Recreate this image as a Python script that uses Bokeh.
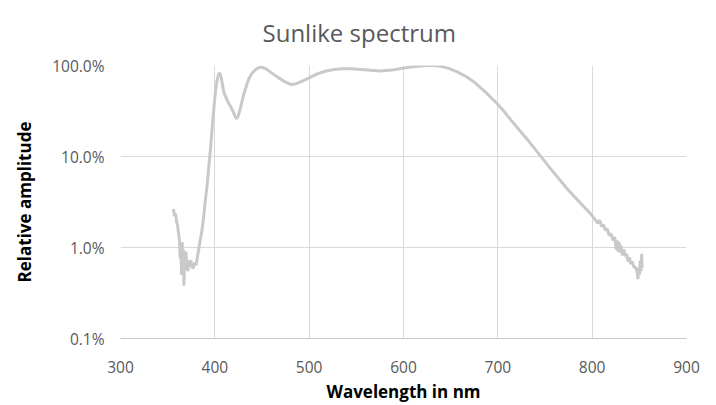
from bokeh.plotting import figure
from bokeh.models import Range1d, FixedTicker, CustomJSTickFormatter, Title
from bokeh.embed import file_html
from bokeh.resources import INLINE

wavelength_nm = [356, 357.5, 358.5, 359.5, 360.5, 361.5, 362.5, 363.3, 364, 364.7,
                 365.4, 366, 366.6, 367.2, 368, 369.3, 370.3, 371.4, 372.5, 373.5,
                 374.5, 375.5, 377, 378.5, 380.2, 381.5, 383, 384.8, 386.6, 388.4,
                 390.1, 392, 393.6, 395.5, 397.2, 399, 400.7, 402.5, 404.3, 405.5,
                 406.7, 408, 409.5, 412, 414.8, 417, 419.5, 421.5, 423, 424.5,
                 426.5, 428.5, 430.8, 433.5, 436.1, 439, 442.1, 445, 448.5, 452,
                 455.5, 460, 466.2, 473, 480.3, 485, 490.9, 500, 508.6, 517,
                 526.2, 535, 545, 555, 565, 575.7, 588, 600.4, 612, 625,
                 632, 639.3, 648, 657, 666, 674.7, 687, 699.4, 708, 717,
                 731, 745.4, 759, 773.7, 786, 798.4, 806, 808, 810, 812,
                 814, 816, 818, 820, 822, 824, 825.5, 826.5, 827.5, 828.5,
                 829.5, 830.5, 832, 833.7, 835, 836.5, 838, 839.5, 840.8, 842.5,
                 844, 846, 847.5, 848.5, 849.2, 850, 851, 851.8, 852.5, 853]
amplitude_pct = [2.65, 2.2, 2.35, 1.9, 1.75, 1.45, 1.2, 0.75, 1.05, 0.50,
                 1.15, 0.65, 0.95, 0.38, 0.8, 0.90, 0.62, 0.55, 0.72, 0.62,
                 0.73, 0.62, 0.59, 0.68, 0.64, 0.78, 0.97, 1.25, 1.61, 2.3,
                 3.4, 5.0, 7.8, 12.5, 21, 34, 53, 70, 82.5, 81,
                 74.6, 62, 51, 44, 38, 35, 31, 27.5, 26, 27.5,
                 32, 39, 49, 60, 71.6, 81, 88, 93, 96, 94,
                 90, 83, 75, 67.5, 62, 62.5, 66, 73, 81, 86.5,
                 90.5, 92, 92, 90.5, 88.5, 87, 89, 94, 97.5, 100,
                 100, 98, 93, 85, 76, 66, 51, 38, 30, 23,
                 15.5, 10.1, 6.7, 4.4, 3.2, 2.34, 1.85, 2.0, 1.7, 1.78,
                 1.55, 1.6, 1.35, 1.42, 1.2, 1.3, 0.95, 1.2, 0.9, 1.15,
                 0.88, 1.05, 0.82, 0.95, 0.80, 0.85, 0.7, 0.78, 0.66, 0.70,
                 0.62, 0.6, 0.55, 0.45, 0.6, 0.5, 0.72, 0.55, 0.85, 0.6]

x_ticks = [300, 400, 500, 600, 700, 800, 900]
y_ticks = [0.1, 1, 10, 100]
title_text = "Sunlike spectrum"

p = figure(width=716, height=405, y_axis_type="log",
           x_range=Range1d(300, 900), y_range=Range1d(0.1, 100),
           output_backend="svg", toolbar_location=None,
           min_border_left=120, min_border_right=30,
           min_border_top=65, min_border_bottom=64)

p.title = Title(text=title_text, align="left", offset=142, standoff=30,
                vertical_align="top",
                text_font="Open Sans", text_font_size="24px",
                text_font_style="normal", text_color="#595959")

p.line(wavelength_nm, amplitude_pct, line_color="#c9c9c9", line_width=3)

p.outline_line_color = None
p.background_fill_color = "white"
p.border_fill_color = "white"

p.xaxis.ticker = FixedTicker(ticks=x_ticks, minor_ticks=[])
p.yaxis.ticker = FixedTicker(ticks=y_ticks, minor_ticks=[])
p.yaxis.formatter = CustomJSTickFormatter(code="return tick.toFixed(1) + '%';")

for ax in (p.xaxis, p.yaxis):
    ax.major_tick_line_color = None
    ax.minor_tick_line_color = None
    ax.major_tick_out = 0
    ax.major_tick_in = 0
    ax.minor_tick_out = 0
    ax.minor_tick_in = 0
    ax.major_label_text_font = "Open Sans"
    ax.major_label_text_font_size = "15.5px"
    ax.major_label_text_color = "#595959"
    ax.axis_label_text_font = "Open Sans"
    ax.axis_label_text_font_size = "17px"
    ax.axis_label_text_font_style = "bold"
    ax.axis_label_text_color = "#000000"

p.xaxis.axis_label = "Wavelength in nm"
p.yaxis.axis_label = "Relative amplitude"
p.xaxis.axis_line_color = "#c8c8c8"
p.yaxis.axis_line_color = None
p.xaxis.major_label_standoff = 22
p.yaxis.major_label_standoff = 16
p.xaxis.axis_label_standoff = 4
p.yaxis.axis_label_standoff = 13

p.xgrid.grid_line_color = "#d9d9d9"
p.ygrid.grid_line_color = "#d9d9d9"
p.xgrid.grid_line_width = 1
p.ygrid.grid_line_width = 1

open("out.html", "w").write(file_html(p, INLINE))
